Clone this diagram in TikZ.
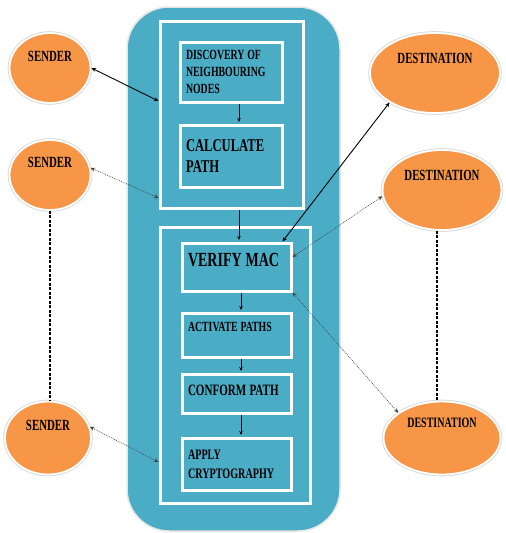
\documentclass[tikz,border=0pt]{standalone}
\usepackage{fontspec}
\setmainfont{Liberation Serif}
\newfontfamily\capsfont[FakeStretch=0.7]{Liberation Serif Bold}
\usetikzlibrary{arrows.meta,calc,positioning,shapes.geometric}
\definecolor{aqua}{HTML}{4BACC6}
\definecolor{peach}{HTML}{F79646}
\newcommand\capsize[2]{\capsfont\fontsize{#1}{#2}\selectfont}
\tikzset{frame/.style={draw=white,line width=3pt,inner sep=0pt},
  stepbox/.style={frame,fill=aqua,align=left,inner xsep=6pt,inner ysep=0pt,
    execute at begin node={\spaceskip=0.2em\relax}},
  peer/.style={ellipse,fill=peach,draw=white,line width=1.8pt,
    preaction={draw=black!15,line width=3.6pt},inner sep=0pt,font=\capsize{15.5}{18}},
  arr/.style={-{Stealth[length=4pt,width=3.5pt]},line width=0.7pt,shorten >=1.5pt},
  link/.style={{Stealth[length=4.5pt,width=4pt]}-{Stealth[length=4.5pt,width=4pt]},line width=0.9pt},
  weak/.style={link,densely dotted,line width=0.6pt,black!75},
  chain/.style={dash pattern=on 3pt off 1.5pt,line width=2.6pt}}

\begin{document}
\begin{tikzpicture}[x=1pt,y=-1pt]
\useasboundingbox (0,0) rectangle (506,533);
% blue panel
\draw[fill=aqua,draw=black!10,line width=1.5pt,rounded corners=42pt] (127,7) rectangle (340,531);
\node[frame,minimum width=143,minimum height=187] (upper) at (231.5,114.5) {};
\node[frame,minimum width=150,minimum height=276] (lower) at (235,365) {};
% steps
\node[stepbox,text width=90pt,minimum height=60,font=\capsize{14}{17}] (disc) at (231,72) {DISCOVERY OF\\NEIGHBOURING\\NODES};
\node[stepbox,text width=90pt,minimum height=62,font=\capsize{18}{21.5}] (route) at (231,156) {CALCULATE\\PATH};
\node[stepbox,text width=97pt,minimum height=48,text depth=14pt,font=\capsize{20}{24}] (verify) at (236.5,267) {VERIFY MAC};
\node[stepbox,text width=97pt,minimum height=44,text depth=16pt,font=\capsize{14}{16}] (activate) at (236.5,335) {ACTIVATE PATHS};
\node[stepbox,text width=97pt,minimum height=39,text depth=6pt,font=\capsize{15.8}{19}] (conform) at (236.5,393.5) {CONFORM PATH};
\node[stepbox,text width=97pt,minimum height=52,font=\capsize{14.5}{19}] (apply) at (236.5,464) {APPLY\\CRYPTOGRAPHY};
\draw[arr] ([xshift=8pt]disc.south) -- ([xshift=8pt]route.north);
\draw[arr] ([xshift=7.5pt]upper.south) -- ([xshift=2.5pt]verify.north);
\draw[arr] ([xshift=4.5pt]verify.south) -- ([xshift=4.5pt]activate.north);
\draw[arr] ([xshift=4.5pt]activate.south) -- ([xshift=4.5pt]conform.north);
\draw[arr] ([xshift=4.5pt]conform.south) -- ([xshift=4.5pt]apply.north);
% senders and destinations
\node[peer,minimum width=81,minimum height=70,text depth=24pt] (s1) at (50,68) {SENDER};
\node[peer,minimum width=81,minimum height=70,text depth=26pt] (s2) at (50,175) {SENDER};
\node[peer,minimum width=86,minimum height=73,text depth=26pt] (s3) at (48,438) {SENDER};
\node[peer,minimum width=130,minimum height=80,text depth=30pt] (d1) at (435,73) {DESTINATION};
\node[peer,minimum width=119,minimum height=80,text depth=30pt] (d2) at (442,190) {DESTINATION};
\node[peer,minimum width=117,minimum height=73,text depth=30pt,font=\capsize{14.3}{17}] (d3) at (442,438) {DESTINATION};
\draw[link] (s1.east) -- ([yshift=13.5pt]upper.west);
\draw[weak] (s2.10) -- ([yshift=-83.5pt]upper.west);
\draw[weak] (s3.15) -- ([yshift=-97pt]lower.west);
\draw[link] (d1.213) -- ([xshift=46pt]verify.north);
\draw[weak] (d2.186) -- ([yshift=10pt]verify.east);
\draw[weak] (verify.south east) -- (d3.150);
\draw[chain] (s2.south) -- (s2.south |- s3.north);
\draw[chain] ([xshift=-5pt]d2.south) -- ([xshift=-5pt]d3.north);
\end{tikzpicture}
\end{document}
